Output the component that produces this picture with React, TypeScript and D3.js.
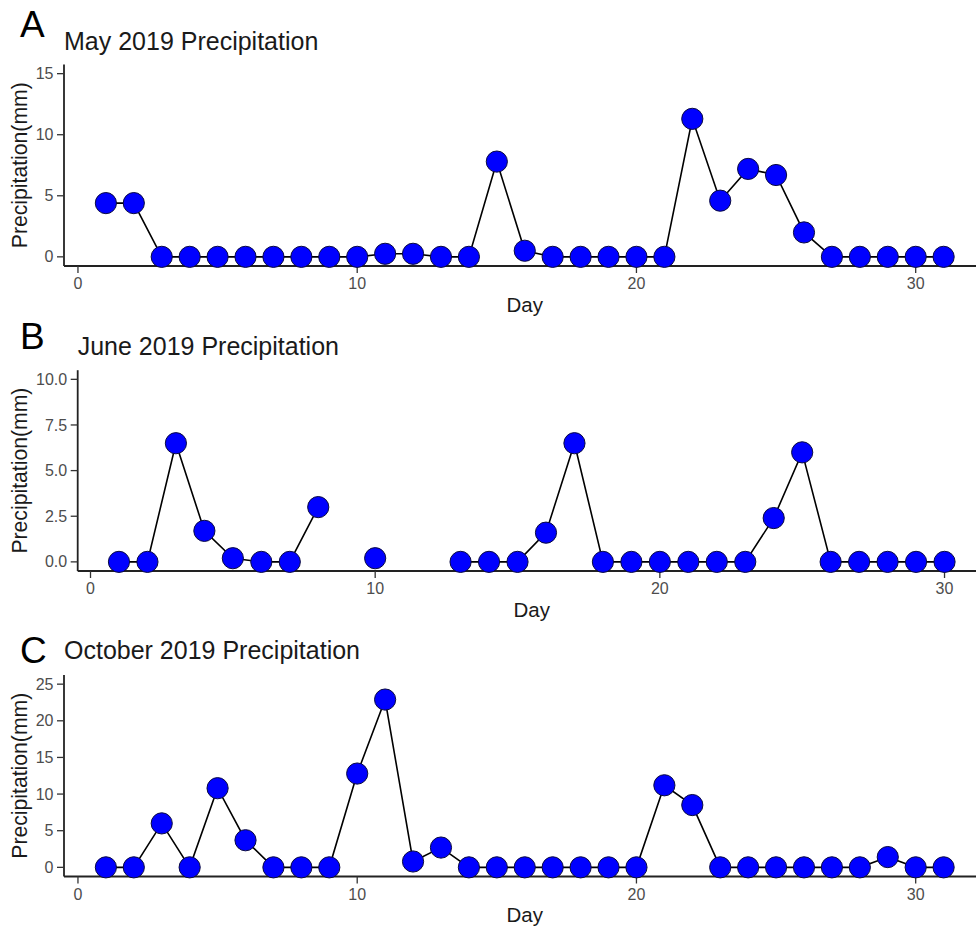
import React from "react";
import * as d3 from "d3";

// ---- Data ----
const mayPrecip: (number | null)[] = [4.4, 4.4, 0, 0, 0, 0, 0, 0, 0, 0, 0.25, 0.25, 0, 0, 7.8, 0.5, 0, 0, 0, 0, 0, 11.3, 4.6, 7.2, 6.7, 2.0, 0, 0, 0, 0, 0];
const junePrecip: (number | null)[] = [0, 0, 6.5, 1.7, 0.2, 0, 0, 3.0, null, 0.2, null, null, 0, 0, 0, 1.6, 6.5, 0, 0, 0, 0, 0, 0, 2.4, 6.0, 0, 0, 0, 0, 0];
const octPrecip: (number | null)[] = [0, 0, 6.0, 0, 10.8, 3.7, 0, 0, 0, 12.8, 22.9, 0.8, 2.7, 0, 0, 0, 0, 0, 0, 0, 11.2, 8.5, 0, 0, 0, 0, 0, 0, 1.4, 0, 0];

const panelLetters = ["A", "B", "C"];
const panelTitles = ["May 2019 Precipitation", "June 2019 Precipitation", "October 2019 Precipitation"];
const yLimits: [number, number][] = [[0, 15], [0, 10], [0, 25]];
const yTicks = [[0, 5, 10, 15], [0, 2.5, 5, 7.5, 10], [0, 5, 10, 15, 20, 25]];
const yTickFormats = ["d", ".1f", "d"];
const xTicks = [0, 10, 20, 30];
const xLabel = "Day";
const yLabel = "Precipitation(mm)";

const series = [mayPrecip, junePrecip, octPrecip];

// ---- Layout ----
const W = 976;
const H = 930;
const layout = [
  { left: 64, right: 985.5, top: 64.5, bottom: 266, titleY: 50, letterY: 37 },
  { left: 77.7, right: 985.8, top: 370.2, bottom: 571, titleY: 355, letterY: 348.5 },
  { left: 64, right: 985.5, top: 675, bottom: 876.5, titleY: 659, letterY: 662.5 },
];
const FONT = "'Liberation Sans', Arial, Helvetica, sans-serif";

function Panel({ idx }: { idx: number }) {
  const L = layout[idx];
  const values = series[idx];
  const pts = values.map((v, i) => ({ day: i + 1, v }));
  const nDays = values.length;
  const xExp = (nDays - 1) * 0.05;
  const x = d3.scaleLinear().domain([1 - xExp, nDays + xExp]).range([L.left, L.right]);
  const [y0, y1] = yLimits[idx];
  const yExp = (y1 - y0) * 0.05;
  const y = d3.scaleLinear().domain([y0 - yExp, y1 + yExp]).range([L.bottom, L.top]);
  const line = d3
    .line<{ day: number; v: number | null }>()
    .defined((d) => d.v !== null)
    .x((d) => x(d.day))
    .y((d) => y(d.v as number));
  const fmt = d3.format(yTickFormats[idx]);
  const midY = (L.top + L.bottom) / 2;
  const midX = (L.left + L.right) / 2;
  return (
    <g>
      <text x={20} y={L.letterY} fontFamily={FONT} fontSize={37} fill="#000">
        {panelLetters[idx]}
      </text>
      <text x={L.left} y={L.titleY} fontFamily={FONT} fontSize={25} fill="#1a1a1a">
        {panelTitles[idx]}
      </text>
      {/* y axis */}
      <line x1={L.left} x2={L.left} y1={L.top} y2={L.bottom} stroke="#222" strokeWidth={1.8} />
      {yTicks[idx].map((t) => (
        <g key={"y" + t}>
          <line x1={L.left - 7} x2={L.left} y1={y(t)} y2={y(t)} stroke="#333" strokeWidth={1.3} />
          <text
            x={L.left - 10.5}
            y={y(t)}
            dy="0.35em"
            textAnchor="end"
            fontFamily={FONT}
            fontSize={16}
            fill="#4d4d4d"
          >
            {fmt(t)}
          </text>
        </g>
      ))}
      {/* x axis */}
      <line x1={L.left} x2={W} y1={L.bottom} y2={L.bottom} stroke="#222" strokeWidth={1.8} />
      {xTicks.map((t) => (
        <g key={"x" + t}>
          <line x1={x(t)} x2={x(t)} y1={L.bottom} y2={L.bottom + 7} stroke="#333" strokeWidth={1.3} />
          <text
            x={x(t)}
            y={L.bottom + 23}
            textAnchor="middle"
            fontFamily={FONT}
            fontSize={16}
            fill="#4d4d4d"
          >
            {t}
          </text>
        </g>
      ))}
      <text x={midX} y={L.bottom + 45.5} textAnchor="middle" fontFamily={FONT} fontSize={20.5} fill="#1a1a1a">
        {xLabel}
      </text>
      <text
        transform={`translate(27,${midY}) rotate(-90)`}
        textAnchor="middle"
        fontFamily={FONT}
        fontSize={21.2}
        fill="#1a1a1a"
      >
        {yLabel}
      </text>
      {/* data */}
      <path d={line(pts) || ""} fill="none" stroke="#000" strokeWidth={1.6} />
      {pts
        .filter((d) => d.v !== null)
        .map((d) => (
          <circle
            key={d.day}
            cx={x(d.day)}
            cy={y(d.v as number)}
            r={10.6}
            fill="#0000ff"
            stroke="#0a0a40"
            strokeWidth={1}
          />
        ))}
    </g>
  );
}

export default function App() {
  return (
    <>
      <style>{`body{margin:0;}`}</style>
      <svg width={W} height={H} style={{ display: "block", background: "#fff" }}>
        <rect x={0} y={0} width={W} height={H} fill="#fff" />
        {[0, 1, 2].map((i) => (
          <Panel key={i} idx={i} />
        ))}
      </svg>
    </>
  );
}
